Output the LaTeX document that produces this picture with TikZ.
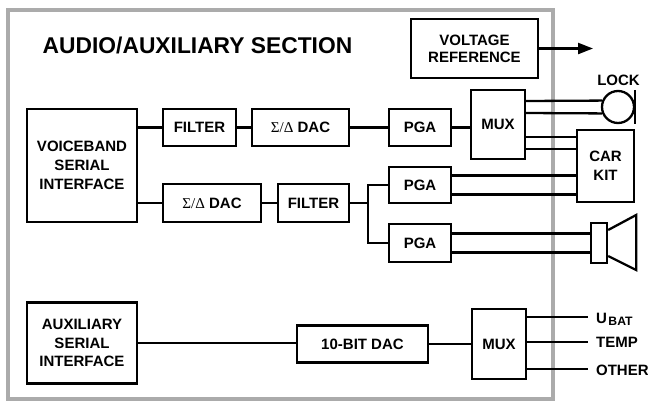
\documentclass[tikz,border=0pt]{standalone}
\usepackage{fontspec}
\setmainfont{Liberation Sans}
\newfontfamily\serifgr{Liberation Serif}
\usetikzlibrary{arrows.meta,calc}
\begin{document}
\begin{tikzpicture}[x=1pt,y=-1pt,
  line width=2.3pt,
  blk/.style={draw, rectangle, inner sep=0pt, align=center,
    font=\fontsize{15}{18.8}\selectfont\bfseries},
  lbl/.style={inner sep=0pt, font=\fontsize{15}{18.8}\selectfont\bfseries},
  frame/.style={draw=black!33, line width=3.8pt}
]
\useasboundingbox (0,0) rectangle (648,402);
% section frame
\draw[frame] (8,10) rectangle (553,399);

\node[lbl, anchor=base, font=\fontsize{22.8}{26}\selectfont\bfseries] (title) at (197.5,53) {AUDIO/AUXILIARY SECTION};

% blocks
\node[blk, minimum width=110pt, minimum height=113pt] (voice) at (82,165.5) {VOICEBAND\\SERIAL\\INTERFACE};
\node[blk, minimum width=73pt, minimum height=37pt] (filt1) at (199.5,127.5) {FILTER};
\node[blk, minimum width=97pt, minimum height=37pt] (sd1) at (300.5,127.5) {{\serifgr\mdseries Σ/Δ} DAC};
\node[blk, minimum width=62pt, minimum height=37pt] (pga1) at (420,127.5) {PGA};
\node[blk, minimum width=54pt, minimum height=69pt] (mux1) at (498,124.5) {MUX};
\node[blk, minimum width=127pt, minimum height=59pt, font=\fontsize{15}{17.2}\selectfont\bfseries] (vref) at (474.5,48.5) {VOLTAGE\\REFERENCE};
\node[blk, minimum width=57pt, minimum height=72pt] (carkit) at (605.5,166) {CAR\\KIT};
\node[blk, minimum width=98pt, minimum height=38pt] (sd2) at (212,203) {{\serifgr\mdseries Σ/Δ} DAC};
\node[blk, minimum width=71pt, minimum height=38pt] (filt2) at (313.5,203) {FILTER};
\node[blk, minimum width=62pt, minimum height=36pt] (pga2) at (420,185) {PGA};
\node[blk, minimum width=62pt, minimum height=38pt] (pga3) at (420,243) {PGA};
\node[blk, minimum width=110pt, minimum height=81pt] (aux) at (82,343) {AUXILIARY\\SERIAL\\INTERFACE};
\node[blk, minimum width=131pt, minimum height=37pt] (dac10) at (362.5,344) {10-BIT DAC};
\node[blk, minimum width=54pt, minimum height=70pt] (mux2) at (499,344) {MUX};

% lock (headset jack) and speaker
\node[draw, circle, minimum size=32pt, inner sep=0pt] (lock) at (618,107) {};
\draw (lock.north -| lock.east) -- (lock.south -| lock.east);
\node[lbl] (locklbl) at (618.5,80) {LOCK};
\node[draw, rectangle, minimum width=16pt, minimum height=40pt, inner sep=0pt] (spk) at (599,243) {};
\draw[line join=miter] ($(spk.east)+(0,-13)$) -- ++(28,-15) -- ++(0,55) -- ($(spk.east)+(0,13)$);

% upper path
\draw (voice.east |- filt1.west) -- (filt1.west);
\draw (filt1) -- (sd1);
\draw (sd1) -- (pga1);
\draw (pga1.east) -- (pga1.east -| mux1.west);

% mux1 outputs
\coordinate (m1a) at ($(mux1.east)+(0,-23.5)$);
\coordinate (m1b) at ($(mux1.east)+(0,-11.5)$);
\coordinate (m1c) at ($(mux1.east)+(0,12.5)$);
\coordinate (m1d) at ($(mux1.east)+(0,24.5)$);
\draw (m1a) -- (lock.158);
\draw (m1b) -- (lock.202);
\draw (m1c) -- (m1c -| carkit.west);
\draw (m1d) -- (m1d -| carkit.west);

% lower path
\draw (voice.east |- sd2.west) -- (sd2.west);
\draw (sd2) -- (filt2);
\coordinate (jn) at (368,203);
\draw (filt2.east) -- (jn);
\draw[line join=miter] (pga2.west) -| (jn) |- (pga3.west);

\coordinate (p2a) at ($(pga2.east)+(0,-9.5)$);
\coordinate (p2b) at ($(pga2.east)+(0,9.5)$);
\draw (p2a) -- (p2a -| carkit.west);
\draw (p2b) -- (p2b -| carkit.west);
\coordinate (p3a) at ($(pga3.east)+(0,-9.5)$);
\coordinate (p3b) at ($(pga3.east)+(0,9.5)$);
\draw (p3a) -- (p3a -| spk.west);
\draw (p3b) -- (p3b -| spk.west);

% voltage reference output
\coordinate (vout) at (593,48.5);
\draw[-{Triangle[length=15pt,width=11pt]}] (vref.east) -- (vout);

% auxiliary path
\draw (aux.east) -- (aux.east -| dac10.west);
\draw (dac10) -- (mux2);

\node[lbl, anchor=base west] (ubat) at (595,323) {U\kern1.5pt\raisebox{-2pt}{\fontsize{12.2}{14}\selectfont BAT}};
\node[lbl, anchor=base west] (temp) at (595,347) {TEMP};
\node[lbl, anchor=base west] (other) at (595,375) {OTHER};
\coordinate (m2a) at ($(mux2.east)+(0,-27)$);
\coordinate (m2b) at ($(mux2.east)+(0,-2)$);
\coordinate (m2c) at ($(mux2.east)+(0,25)$);
\draw (m2a) -- ($(m2a -| ubat.west)+(-7,0)$);
\draw (m2b) -- ($(m2b -| temp.west)+(-7,0)$);
\draw (m2c) -- ($(m2c -| other.west)+(-7,0)$);
\end{tikzpicture}
\end{document}
